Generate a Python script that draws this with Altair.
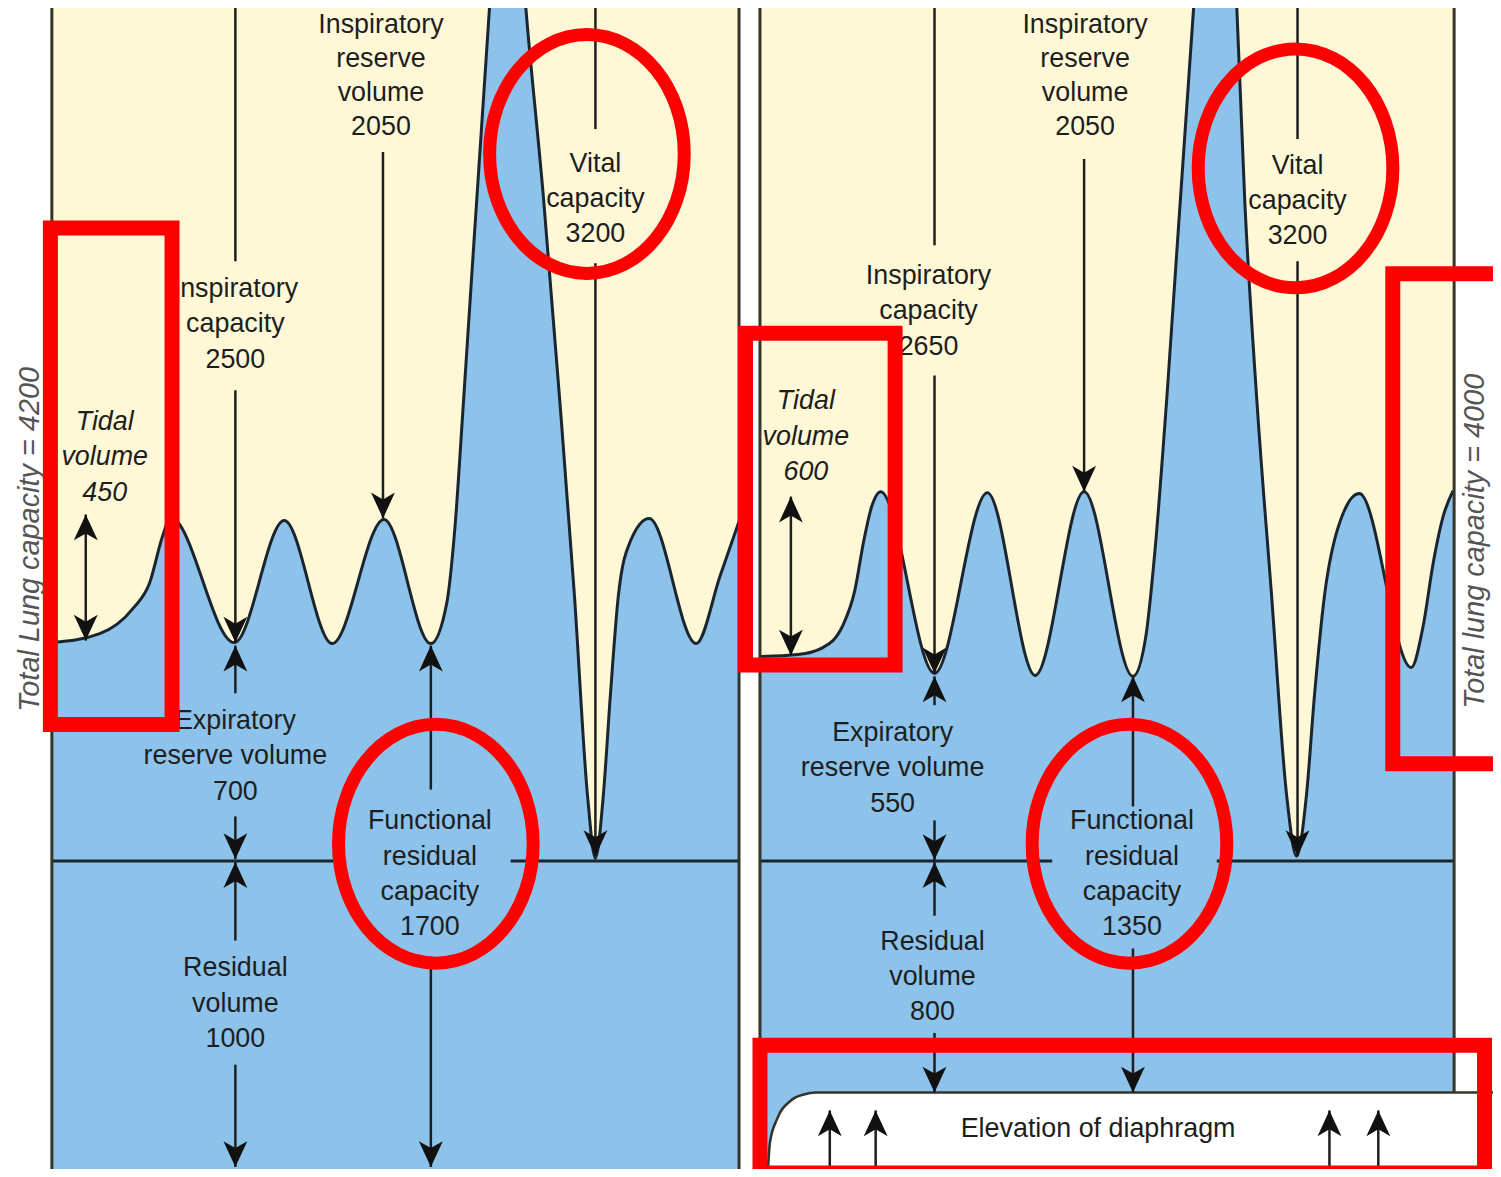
import altair as alt
import pandas as pd

FW, FH = 1501, 1177
W, H = 1485, 1161
X_RANGE = [-8, W + 4]
Y_RANGE = [-8, H]
K = ((X_RANGE[1] - X_RANGE[0]) / FW + (Y_RANGE[1] - Y_RANGE[0]) / FH) / 2

CREAM = "#FEF8D6"
BLUE = "#8DC3EA"
INK = "#1f1f1f"
CURVE = "#1b2530"
BORDER = "#35352c"
RED = "#FF0000"
SIDE = "#555555"
TEXT = "#1e1e1e"
FONT = "Liberation Sans"

# ---------------- breathing traces (time, level) ----------------
left_t = [53, 100, 133, 150, 163, 171, 235, 285, 333, 385, 432, 448, 456, 465, 491, 509, 527,
          545, 561, 576, 589, 597, 605, 612, 620, 632, 651, 698, 722, 741]
left_v = [647, 638, 613, 587, 540, 521, 647, 524, 648, 523, 648, 607, 533, 400, 5, -240, 5,
          200, 400, 600, 800, 864, 800, 700, 600, 545, 522, 648, 580, 525]

right_t = [763, 800, 825, 845, 857, 866, 874, 883, 937, 990, 1038, 1087, 1136, 1149, 1158, 1170,
           1197, 1218, 1240, 1248, 1260, 1275, 1290, 1300, 1310, 1318, 1328, 1342, 1363, 1415,
           1427, 1437, 1447, 1457]
right_v = [661, 659, 652, 630, 595, 545, 510, 495, 678, 496, 680, 495, 681, 640, 555, 400,
           5, -240, 5, 200, 400, 600, 800, 862, 800, 700, 600, 530, 497, 672,
           630, 567, 520, 494]

# diaphragm outline (right panel)
dia_t = [770, 772, 779, 793, 806, 818, 1501]
dia_v = [1177, 1150, 1127, 1108, 1102, 1100, 1100]

# ---------------- panels, borders, level lines ----------------
panels = [(52, 741, 5, 1177), (762, 1458, 5, 1177)]
borders = [(52, 5, 1177), (741, 5, 1177), (762, 5, 1177), (1458, 5, 1100)]
level_lines = [(52, 347, 867), (512, 741, 867), (762, 1055, 867), (1220, 1458, 867)]

# ---------------- arrows ----------------
shafts = [
    (236, 5, 263), (236, 393, 647), (236, 650, 698), (236, 822, 865), (236, 868, 947), (236, 1072, 1175),
    (384, 153, 522), (432, 650, 795), (432, 963, 1175), (597, 5, 130), (597, 265, 862), (86, 518, 645),
    (937, 5, 247), (937, 378, 678), (937, 681, 710), (937, 826, 866), (937, 868, 922), (937, 1040, 1100),
    (1087, 160, 495), (1136, 681, 812), (1136, 955, 1100), (1301, 5, 140), (1301, 263, 862), (793, 500, 660),
    (832, 1118, 1177), (878, 1118, 1177), (1333, 1118, 1177), (1382, 1118, 1177),
]
heads_down = [(236, 647), (236, 865), (236, 1175), (384, 522), (432, 1175), (597, 862), (86, 645),
              (937, 678), (937, 866), (937, 1100), (1087, 495), (1136, 1100), (1301, 862), (793, 660)]
heads_up = [(236, 650), (236, 868), (432, 650), (86, 518), (937, 681), (937, 868), (1136, 681),
            (793, 500), (832, 1118), (878, 1118), (1333, 1118), (1382, 1118)]

# ---------------- labels (lines, centre, first line, line gap, style) ----------------
labels = [
    (["Inspiratory", "reserve", "volume", "2050"], 382, 25.5, 34, "normal"),
    (["Inspiratory", "capacity", "2500"], 236, 291, 35.5, "normal"),
    (["Tidal", "volume", "450"], 105, 425, 35.5, "italic"),
    (["Expiratory", "reserve volume", "700"], 236, 726, 35.5, "normal"),
    (["Functional", "residual", "capacity", "1700"], 431, 827, 35.5, "normal"),
    (["Residual", "volume", "1000"], 236, 975, 35.5, "normal"),
    (["Vital", "capacity", "3200"], 597, 165, 35.5, "normal"),
    (["Inspiratory", "reserve", "volume", "2050"], 1088, 25.5, 34, "normal"),
    (["Inspiratory", "capacity", "2650"], 931, 278, 35.5, "normal"),
    (["Tidal", "volume", "600"], 808, 404, 35.5, "italic"),
    (["Vital", "capacity", "3200"], 1301, 167, 35.5, "normal"),
    (["Expiratory", "reserve volume", "550"], 895, 738, 35.5, "normal"),
    (["Functional", "residual", "capacity", "1350"], 1135, 827, 35.5, "normal"),
    (["Residual", "volume", "800"], 935, 948, 35.5, "normal"),
    (["Elevation of diaphragm"], 1101, 1137, 35.5, "normal"),
]
side_labels = [("Total Lung capacity = 4200", 30, 543), ("Total lung capacity = 4000", 1479, 545)]

# ---------------- red highlights ----------------
red_rects = [(50.5, 172.5, 229.5, 729.5), (747.5, 897.5, 335.5, 669.5),
             (1396.5, 1515, 275.5, 769), (762, 1488.5, 1052.5, 1181)]
red_ellipses = [(588.5, 155), (437, 849.5), (1299, 169.5), (1132.5, 849.5)]

# ============================================================
xs = alt.Scale(domain=[0, FW], range=X_RANGE, nice=False, zero=False)
ys = alt.Scale(domain=[0, FH], range=Y_RANGE, nice=False, zero=False)


def X(f="x"):
    return alt.X(f"{f}:Q", scale=xs, axis=None)


def Y(f="y"):
    return alt.Y(f"{f}:Q", scale=ys, axis=None)


layers = []

# cream panels
df = pd.DataFrame(panels, columns=["x1", "x2", "y1", "y2"])
layers.append(alt.Chart(df).mark_rect(color=CREAM).encode(
    x=X("x1"), x2=alt.X2("x2:Q"), y=Y("y1"), y2=alt.Y2("y2:Q")))

# blue volume areas + traces
for t, v in [(left_t, left_v), (right_t, right_v)]:
    df = pd.DataFrame({"x": t, "y": v, "base": [FH] * len(t)})
    layers.append(alt.Chart(df).mark_area(interpolate="monotone", color=BLUE, opacity=1, clip=True).encode(
        x=X(), y=Y(), y2=alt.Y2("base:Q")))
    layers.append(alt.Chart(df).mark_line(interpolate="monotone", color=CURVE, strokeWidth=3, clip=True).encode(
        x=X(), y=Y()))

# diaphragm
df = pd.DataFrame({"x": dia_t, "y": dia_v, "base": [FH] * len(dia_t)})
layers.append(alt.Chart(df).mark_area(interpolate="monotone", color="white", opacity=1, clip=True).encode(
    x=X(), y=Y(), y2=alt.Y2("base:Q")))
layers.append(alt.Chart(df).mark_line(interpolate="monotone", color=BORDER, strokeWidth=2.6, clip=True).encode(
    x=X(), y=Y()))

# top white strip
df = pd.DataFrame({"x1": [0], "x2": [FW], "y1": [-10], "y2": [5]})
layers.append(alt.Chart(df).mark_rect(color="white").encode(
    x=X("x1"), x2=alt.X2("x2:Q"), y=Y("y1"), y2=alt.Y2("y2:Q")))

# level lines
df = pd.DataFrame(level_lines, columns=["x1", "x2", "y"])
layers.append(alt.Chart(df).mark_rule(color=CURVE, strokeWidth=3).encode(
    x=X("x1"), x2=alt.X2("x2:Q"), y=Y()))

# borders
df = pd.DataFrame(borders, columns=["x", "y1", "y2"])
layers.append(alt.Chart(df).mark_rule(color=BORDER, strokeWidth=3).encode(
    x=X(), y=Y("y1"), y2=alt.Y2("y2:Q")))

# arrow shafts
df = pd.DataFrame(shafts, columns=["x", "y1", "y2"])
layers.append(alt.Chart(df).mark_rule(color=INK, strokeWidth=2.5).encode(
    x=X(), y=Y("y1"), y2=alt.Y2("y2:Q")))

DOWN = "M 0 0 L -1.2 -2.6 L 0 -1.9 L 1.2 -2.6 Z"
UP = "M 0 0 L -1.2 2.6 L 0 1.9 L 1.2 2.6 Z"
HEAD_SIZE = (20 * K) ** 2
for pts, shp in [(heads_down, DOWN), (heads_up, UP)]:
    df = pd.DataFrame(pts, columns=["x", "y"])
    layers.append(alt.Chart(df).mark_point(shape=shp, filled=True, color="#111111", opacity=1,
                                           size=HEAD_SIZE, strokeWidth=0).encode(x=X(), y=Y()))

# labels
rows = []
for lines, lx, ly, gap, st in labels:
    for i, s in enumerate(lines):
        rows.append({"text": s, "x": lx, "y": ly + i * gap, "style": st})
lab = pd.DataFrame(rows)
for st in ["normal", "italic"]:
    df = lab[lab["style"] == st]
    layers.append(alt.Chart(df).mark_text(font=FONT, fontSize=27 * K, fontStyle=st, color=TEXT,
                                          align="center", baseline="middle").encode(
        x=X(), y=Y(), text="text:N"))

df = pd.DataFrame(side_labels, columns=["text", "x", "y"])
layers.append(alt.Chart(df).mark_text(font=FONT, fontSize=29 * K, fontStyle="italic", color=SIDE,
                                      angle=270, align="center", baseline="middle").encode(
    x=X(), y=Y(), text="text:N"))

# red highlights
df = pd.DataFrame(red_rects, columns=["x1", "x2", "y1", "y2"])
layers.append(alt.Chart(df).mark_rect(fillOpacity=0, stroke=RED, strokeWidth=15, clip=True).encode(
    x=X("x1"), x2=alt.X2("x2:Q"), y=Y("y1"), y2=alt.Y2("y2:Q")))

ELLIPSE = ("M 0 -1 C 0.450 -1 0.815 -0.552 0.815 0 C 0.815 0.552 0.450 1 0 1 "
           "C -0.450 1 -0.815 0.552 -0.815 0 C -0.815 -0.552 -0.450 -1 0 -1 Z")
df = pd.DataFrame(red_ellipses, columns=["x", "y"])
layers.append(alt.Chart(df).mark_point(shape=ELLIPSE, filled=False, color=RED, opacity=1,
                                       strokeWidth=13, size=(240 * K) ** 2).encode(x=X(), y=Y()))

chart = alt.layer(*layers).properties(
    width=W, height=H, padding=0, autosize="none", background="white"
).configure_view(strokeWidth=0)

chart.save("out.html", embed_options={"renderer": "svg", "actions": False})
